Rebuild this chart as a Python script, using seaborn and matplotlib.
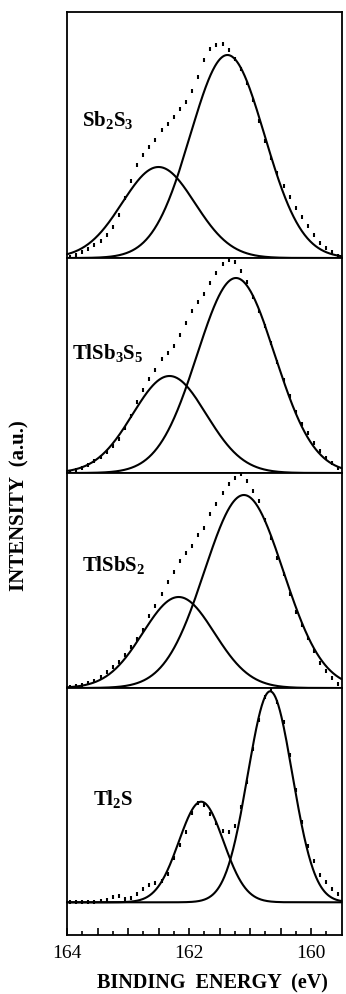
import numpy as np
import pandas as pd
import seaborn as sns
import matplotlib
matplotlib.use("Agg")
import matplotlib.pyplot as plt
from matplotlib.ticker import FixedLocator, FixedFormatter

# S 2p spectra, binding energy grid of the measured points (eV)
energy = np.linspace(163.95, 159.55, 45)

samples = ["Sb$_2$S$_3$", "TlSb$_3$S$_5$", "TlSbS$_2$", "Tl$_2$S"]

dots_sb2s3 = [1.4, 3.5, 6, 9, 13, 17, 23.5, 31, 43, 60, 77, 93, 103, 111, 118.5,
              128, 134.5, 141, 149, 156, 167, 181, 198.5, 209.5, 213, 214, 208.5,
              199, 189, 175, 158.5, 137.5, 117.5, 100, 85, 72.5, 61, 50, 41, 32,
              23, 15, 10, 6, 2.5]
dots_tlsb3s5 = [1.5, 3, 5, 8, 12, 16, 21, 27, 34, 45, 57, 71, 83, 94, 103, 114,
                120, 127, 138, 150, 162, 171, 179, 190, 200, 209, 213, 211, 202,
                191, 176, 162, 147, 130, 111, 93, 77, 61, 49, 40, 30, 22, 15, 10, 5]
dots_tlsbs2 = [1, 2, 3, 5, 7, 11, 16, 21, 26, 33, 41, 49, 58, 72, 82, 94, 106,
               116, 127, 135, 142, 153, 160, 174, 184, 195, 204, 210, 214, 207,
               197, 187, 168, 150, 130, 114, 94, 76, 63, 50, 37, 25, 17, 10, 4]
dots_tl2s = [0, 0, 0, 0, 0.5, 1, 2, 5, 6, 3.5, 4.5, 8, 13, 17, 19.5, 21, 28, 44,
             57, 70, 89, 99, 97, 88, 79, 71, 70.5, 76, 95, 120, 153, 182, 205,
             212, 200, 180, 147, 112, 80, 56, 41, 27, 20, 13, 8]
dots = [dots_sb2s3, dots_tlsb3s5, dots_tlsbs2, dots_tl2s]

# fitted S 2p3/2 and S 2p1/2 components: position (eV), height, FWHM (eV)
p32_pos = [161.37, 161.23, 161.10, 160.67]
p32_height = [203, 195, 193, 211]
p32_fwhm = [1.43, 1.50, 1.52, 0.86]
p12_pos = [162.50, 162.32, 162.17, 161.80]
p12_height = [91, 97, 91, 100.6]
p12_fwhm = [1.40, 1.42, 1.38, 0.86]

label_pos = [(163.75, 138), (163.92, 120), (163.75, 123), (163.58, 103)]
ylims = [(0, 246), (0, 215), (0, 215), (-32.7, 214.3)]


def gauss(e, pos, height, fwhm):
    s = fwhm / 2.3548
    return height * np.exp(-0.5 * ((e - pos) / s) ** 2)


sns.set_style("white")
plt.rcParams["font.family"] = ["Liberation Serif", "DejaVu Serif"]
plt.rcParams["mathtext.fontset"] = "custom"
plt.rcParams["mathtext.rm"] = "Liberation Serif:bold"
plt.rcParams["mathtext.default"] = "rm"
plt.rcParams["text.color"] = "k"
plt.rcParams["xtick.color"] = "k"
plt.rcParams["xtick.labelcolor"] = "k"

fig = plt.figure(figsize=(3.46, 9.94), dpi=100)
gs = fig.add_gridspec(4, 1, height_ratios=[246, 215, 215, 247], hspace=0,
                      left=67 / 346, right=341.5 / 346,
                      top=1 - 12 / 994, bottom=1 - 935 / 994)

e_fine = np.linspace(164, 159.5, 500)

for i in range(4):
    ax = fig.add_subplot(gs[i])
    fit = pd.DataFrame({
        "E": e_fine,
        "p32": gauss(e_fine, p32_pos[i], p32_height[i], p32_fwhm[i]),
        "p12": gauss(e_fine, p12_pos[i], p12_height[i], p12_fwhm[i]),
    })
    sns.lineplot(data=fit, x="E", y="p32", color="k", lw=1.5, ax=ax, clip_on=False)
    sns.lineplot(data=fit, x="E", y="p12", color="k", lw=1.5, ax=ax, clip_on=False)
    meas = pd.DataFrame({"E": energy, "I": dots[i]})
    sns.scatterplot(data=meas, x="E", y="I", marker="|", s=9, color="k",
                    linewidth=1.5, ax=ax, clip_on=False, zorder=3)
    ax.text(label_pos[i][0], label_pos[i][1], samples[i], fontsize=15,
            fontweight="bold", ha="left", va="center", color="k")
    ax.set_xlim(164, 159.5)
    ax.set_ylim(*ylims[i])
    ax.set_xlabel("")
    ax.set_ylabel("")
    ax.set_yticks([])
    for sp in ax.spines.values():
        sp.set_linewidth(1.3)
        sp.set_color("k")
    if i < 3:
        ax.set_xticks([])
    else:
        major = [164, 163.5, 163, 162.5, 162, 161.5, 161, 160.5, 160]
        ax.xaxis.set_major_locator(FixedLocator(major))
        ax.xaxis.set_major_formatter(FixedFormatter(
            ["164", "", "", "", "162", "", "", "", "160"]))
        ax.xaxis.set_minor_locator(FixedLocator(
            [163.75, 163.25, 162.75, 162.25, 161.75, 161.25, 160.75, 160.25, 159.75]))
        ax.tick_params(axis="x", which="major", direction="in", length=5,
                       width=1.2, pad=7, labelsize=14, bottom=True)
        ax.tick_params(axis="x", which="minor", direction="in", length=3,
                       width=1.2, bottom=True)

fig.text(212.5 / 346, 1 - 983 / 994, "BINDING  ENERGY  (eV)", fontsize=14.5,
         fontweight="bold", ha="center", va="center")
fig.text(19 / 346, 1 - 506 / 994, "INTENSITY  (a.u.)", fontsize=15,
         fontweight="bold", ha="center", va="center", rotation=90)

fig.savefig("out.png", dpi=100)
